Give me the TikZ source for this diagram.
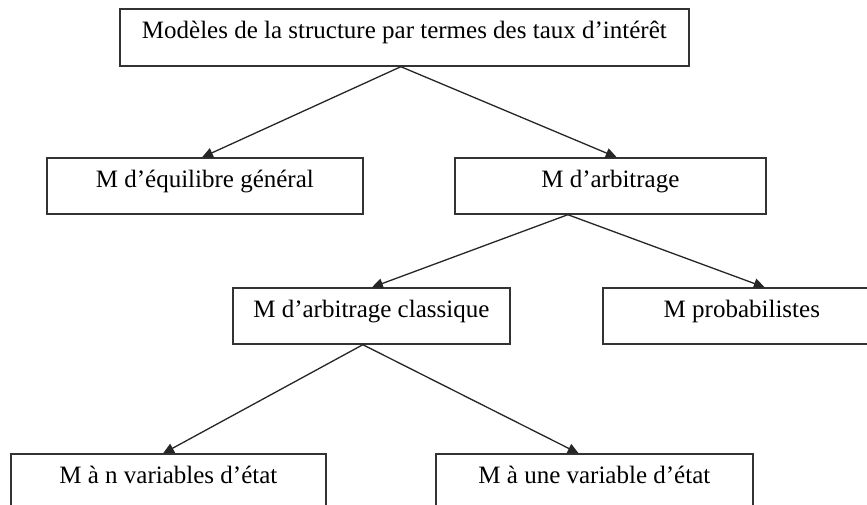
\documentclass[tikz,border=0pt]{standalone}
\usepackage{fontspec}
\setmainfont{Liberation Serif}
\usetikzlibrary{arrows.meta}
\begin{document}
\begin{tikzpicture}[x=1pt,y=-1pt,
  box/.style={draw=black!80, line width=1.7pt, rectangle, anchor=north west,
    inner xsep=0pt, inner ysep=0pt, text height=30pt, text depth=26pt,
    font=\fontsize{25}{29}\selectfont},
  arr/.style={draw=black!85, line width=1.3pt, -{Triangle[length=11pt,width=10pt]}, shorten >=-1pt}]
\useasboundingbox (0,0) rectangle (867,505);
\clip (0,0) rectangle (867,505);
\fill[white] (0,0) rectangle (867,505);
\node[box, minimum width=569pt, text depth=27pt] (top) at (119,8) {Modèles de la structure par termes des taux d’intérêt};
\node[box, minimum width=316pt] (eq) at (46,157) {M d’équilibre général};
\node[box, minimum width=311pt] (arb) at (454,157) {M d’arbitrage};
\node[box, minimum width=277pt] (cla) at (232,287) {M d’arbitrage classique};
\node[box, minimum width=278pt] (pro) at (602,287) {M probabilistes};
\node[box, minimum width=315pt] (nv) at (10,453) {M à n variables d’état};
\node[box, minimum width=317pt] (uv) at (435,453) {M à une variable d’état};
\draw[arr] ([xshift=-3.5pt]top.south) -- ([xshift=-2pt]eq.north);
\draw[arr] ([xshift=-3.5pt]top.south) -- ([xshift=5.5pt]arb.north);
\draw[arr] ([xshift=-42.5pt]arb.south) -- ([xshift=1.5pt]cla.north);
\draw[arr] ([xshift=-42.5pt]arb.south) -- ([xshift=22pt]pro.north);
\draw[arr] ([xshift=-8.5pt]cla.south) -- ([xshift=-4.5pt]nv.north);
\draw[arr] ([xshift=-8.5pt]cla.south) -- ([xshift=-16.5pt]uv.north);
\end{tikzpicture}
\end{document}
